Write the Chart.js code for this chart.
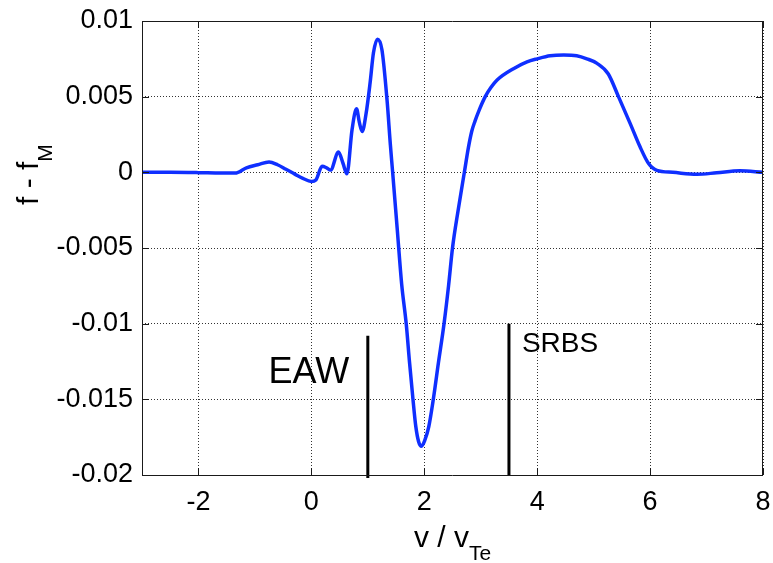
<!DOCTYPE html>
<html lang="en">
<head>
  <meta charset="UTF-8" />
  <title>f - fM vs v / vTe</title>
  <script src="https://cdn.jsdelivr.net/npm/chart.js"></script>
  <style>
    html, body { margin: 0; padding: 0; background: #fff; }
    .wrap { width: 773px; height: 563px; position: relative; }
  </style>
</head>
<body>
<div class="wrap"><canvas id="distChart"></canvas></div>

<script>
  // v / v_Te samples and the distribution perturbation f - f_M
  const velocity = [
    -3.0, -2.5, -2.0, -1.6, -1.35, -1.15, -0.95, -0.75, -0.6, -0.45,
    -0.3, -0.15, 0.0, 0.08, 0.19, 0.27, 0.34, 0.48, 0.56, 0.63,
    0.72, 0.80, 0.85, 0.90, 0.97, 1.04, 1.10, 1.17, 1.25, 1.34,
    1.40, 1.44, 1.52, 1.60, 1.68, 1.74, 1.80, 1.85, 1.90, 1.95,
    2.01, 2.08, 2.16, 2.25, 2.35, 2.43, 2.50, 2.60, 2.71, 2.78,
    2.84, 2.90, 2.96, 3.08, 3.18, 3.29, 3.58, 3.82, 4.0, 4.23,
    4.47, 4.70, 4.88, 5.06, 5.26, 5.44, 5.65, 5.82, 5.97, 6.12,
    6.40, 6.83, 7.18, 7.59, 8.0
  ];
  const deltaF = [
    0, 0, -0.00002, -0.00005, -0.00005, 0.0003, 0.0005, 0.00068, 0.0005, 0.0002,
    -0.0001, -0.0004, -0.0006, -0.0005, 0.0004, 0.0003, 0.00015, 0.00134, 0.0006, -0.0001,
    0.0028, 0.0042, 0.0033, 0.0027, 0.0039, 0.0059, 0.0079, 0.0088, 0.0081, 0.0048,
    0.0018, 0, -0.0037, -0.0074, -0.0100, -0.0126, -0.0150, -0.0168, -0.0178, -0.0181,
    -0.0177, -0.0168, -0.0150, -0.0126, -0.0100, -0.0075, -0.0050, -0.0025, 0, 0.0016,
    0.0027, 0.0034, 0.0040, 0.0050, 0.0056, 0.0061, 0.00685, 0.0073, 0.0075, 0.0077,
    0.00775, 0.0077, 0.0075, 0.0072, 0.0065, 0.0050, 0.0032, 0.0017, 0.0006, 0.00013,
    0, -0.00013, -0.00003, 0.0001, 0
  ];

  // resonance markers
  const markerNames = ['EAW', 'SRBS'];
  const markerVel = [1, 3.5];
  const markerTop = [-0.0108, -0.01];
  const markerBottom = [-0.0202, -0.02];

  const xTicks = [-2, 0, 2, 4, 6, 8];
  const xTickLabels = ['-2', '0', '2', '4', '6', '8'];
  const yTicks = [-0.02, -0.015, -0.01, -0.005, 0, 0.005, 0.01];
  const yTickLabels = ['-0.02', '-0.015', '-0.01', '-0.005', '0', '0.005', '0.01'];

  const FONT = "'Liberation Sans', Arial, Helvetica, sans-serif";

  // where the marker names sit, in data units
  const markerText = [
    { v: 0.67, f: -0.0139, align: 'right', size: 36 },
    { v: 3.73, f: -0.0119, align: 'left', size: 28 }
  ];

  // box around the axes, inward tick marks, marker names
  const axesBox = {
    id: 'axesBox',
    afterDatasetsDraw(chart) {
      const { ctx, chartArea: a, scales: { x, y } } = chart;
      const tl = 7;
      ctx.save();
      ctx.strokeStyle = '#1a1a1a';
      ctx.lineWidth = 1;
      ctx.beginPath();
      ctx.rect(Math.round(a.left) + 0.5, Math.round(a.top) + 0.5,
               Math.round(a.right - a.left) - 1, Math.round(a.bottom - a.top));
      xTicks.forEach(v => {
        const px = Math.round(x.getPixelForValue(v)) + 0.5;
        ctx.moveTo(px, a.bottom); ctx.lineTo(px, a.bottom - tl);
        ctx.moveTo(px, a.top); ctx.lineTo(px, a.top + tl);
      });
      yTicks.forEach(v => {
        const py = Math.round(y.getPixelForValue(v)) + 0.5;
        ctx.moveTo(a.left, py); ctx.lineTo(a.left + tl, py);
        ctx.moveTo(a.right, py); ctx.lineTo(a.right - tl, py);
      });
      ctx.stroke();

      ctx.fillStyle = '#000';
      ctx.textBaseline = 'alphabetic';
      markerText.forEach((t, i) => {
        ctx.font = t.size + 'px ' + FONT;
        ctx.textAlign = t.align;
        ctx.fillText(markerNames[i], x.getPixelForValue(t.v), y.getPixelForValue(t.f));
      });
      ctx.restore();
    },
    afterDraw(chart) {
      const { ctx, chartArea: a } = chart;
      ctx.save();
      ctx.fillStyle = '#000';
      ctx.textAlign = 'left';
      ctx.textBaseline = 'alphabetic';

      // x label: v / v_Te
      ctx.font = '30px ' + FONT;
      const mainX = 'v / v';
      const wMain = ctx.measureText(mainX).width;
      ctx.font = '21px ' + FONT;
      const wSub = ctx.measureText('Te').width;
      const x0 = (a.left + a.right) / 2 - (wMain + wSub) / 2;
      ctx.font = '30px ' + FONT;
      ctx.fillText(mainX, x0, 547);
      ctx.font = '21px ' + FONT;
      ctx.fillText('Te', x0 + wMain, 560);

      // y label: f - f_M
      ctx.translate(38, 205);
      ctx.rotate(-Math.PI / 2);
      ctx.font = '30px ' + FONT;
      const mainY = 'f - f';
      const wY = ctx.measureText(mainY).width;
      ctx.fillText(mainY, 0, 0);
      ctx.font = '21px ' + FONT;
      ctx.fillText('M', wY, 14);
      ctx.restore();
    }
  };

  const curve = velocity.map((v, i) => ({ x: v, y: deltaF[i] }));
  const markerSets = markerVel.map((v, i) => ({
    label: markerNames[i],
    data: [{ x: v, y: markerTop[i] }, { x: v, y: markerBottom[i] }],
    borderColor: '#000',
    borderWidth: 3,
    pointRadius: 0,
    clip: false
  }));

  new Chart(document.getElementById('distChart'), {
    type: 'line',
    data: {
      datasets: [{
        label: 'f - fM',
        data: curve,
        borderColor: '#0f2fff',
        borderWidth: 3.5,
        pointRadius: 0,
        cubicInterpolationMode: 'monotone',
        borderCapStyle: 'round',
        borderJoinStyle: 'round'
      }, ...markerSets]
    },
    options: {
      responsive: true,
      maintainAspectRatio: false,
      animation: false,
      layout: { padding: { top: 21, right: 10, left: 0, bottom: 0 } },
      plugins: {
        legend: { display: false },
        tooltip: { enabled: false }
      },
      scales: {
        x: {
          type: 'linear',
          min: -3,
          max: 8,
          afterBuildTicks: s => { s.ticks = xTicks.map(v => ({ value: v })); },
          afterFit: s => { s.height = 88; s.paddingLeft = 0; s.paddingRight = 0; },
          grid: { color: 'rgba(0,0,0,0.8)', lineWidth: 1, drawTicks: false },
          border: { display: false, dash: [1, 2] },
          ticks: {
            autoSkip: false,
            maxRotation: 0,
            padding: 11,
            color: '#000',
            font: { family: FONT, size: 27 },
            callback: (v, i) => xTickLabels[i]
          }
        },
        y: {
          type: 'linear',
          min: -0.02,
          max: 0.01,
          afterBuildTicks: s => { s.ticks = yTicks.map(v => ({ value: v })); },
          afterFit: s => { s.width = 142; s.paddingTop = 0; s.paddingBottom = 0; },
          grid: { color: 'rgba(0,0,0,0.8)', lineWidth: 1, drawTicks: false },
          border: { display: false, dash: [1, 2] },
          ticks: {
            autoSkip: false,
            padding: 9,
            color: '#000',
            font: { family: FONT, size: 27 },
            callback: (v, i) => yTickLabels[i]
          }
        }
      }
    },
    plugins: [axesBox]
  });
</script>
</body>
</html>
